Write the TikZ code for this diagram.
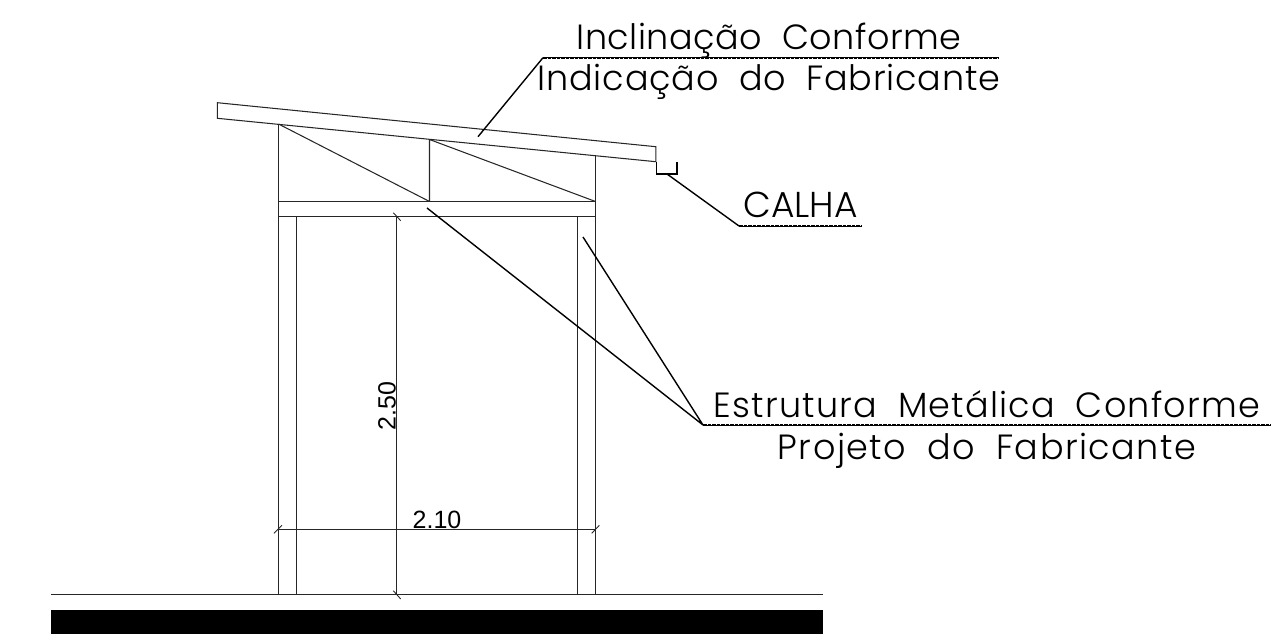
\documentclass[tikz,border=0pt]{standalone}
\usepackage{fontspec}
\setmainfont{Poppins}[UprightFont=* Light]
\newfontfamily\dimfont{Liberation Sans}
\tikzset{
  x=1pt,y=-1pt,
  struct/.style={draw=black!85,line width=1.05pt},
  leader/.style={draw=black,line width=1.4pt},
  shelf/.style={draw=black,line width=1pt,postaction={draw=black,line width=2.2pt,dash pattern=on 3.5pt off 1pt}},
  gutter/.style={draw=black,line width=1.8pt},
  tick/.style={draw=black!85,line width=.9pt},
  big/.style={anchor=base,inner sep=0pt,text=black,font=\fontsize{35}{35}\selectfont},
  dimtext/.style={anchor=base,inner sep=0pt,text=black,font=\dimfont\fontsize{25}{25}\selectfont},
}
\begin{document}
\begin{tikzpicture}
\useasboundingbox (0,0) rectangle (1284,634);
% ground
\fill[black] (51,610) rectangle (823,634);
\coordinate (gl) at (51,594.5); \coordinate (gr) at (823,594.5);
\draw[draw=black!85,line width=1.8pt] (gl) -- (gr);
% roof
\coordinate (rtl) at (217.3,102.7); \coordinate (rbl) at (217.3,118.3);
\coordinate (rtr) at (655.8,146.7); \coordinate (rbr) at (655.8,161.7);
\draw[struct] (rtl) -- (rtr) -- (rbr) -- (rbl) -- cycle;
% columns
\coordinate (lo) at (278.5,124); \coordinate (lob) at (278.5,594.5);
\coordinate (li) at (296.5,216.7); \coordinate (lib) at (296.5,594.5);
\coordinate (ro) at (595.5,156); \coordinate (rob) at (595.5,594.5);
\coordinate (ri) at (577.5,216.7); \coordinate (rib) at (577.5,594.5);
\draw[struct] (lo) -- (lob) (li) -- (lib) (ro) -- (rob) (ri) -- (rib);
% beam
\coordinate (bl1) at (278.5,201.5); \coordinate (br1) at (595.5,201.5);
\coordinate (bl2) at (278.5,216.5); \coordinate (br2) at (595.5,216.5);
\draw[struct] (bl1) -- (br1) (bl2) -- (br2);
% truss
\coordinate (wt) at (429.5,139.5); \coordinate (wb) at (429.5,201.5);
\draw[struct] (wt) -- (wb) (lo) -- (wb) (wt) -- (br1);
% gutter
\coordinate (g1) at (656.5,161.5); \coordinate (g2) at (656.5,174);
\coordinate (g3) at (677,174); \coordinate (g4) at (677,161.5);
\draw[gutter] (g1) -- (g2) -- (g3) -- (g4);
% dimensions
\coordinate (d1) at (396.5,216.5); \coordinate (d2) at (396.5,594.5);
\draw[struct] (d1) -- (d2);
\draw[tick] (393.3,212.7) -- (400.7,220.7);
\draw[tick] (393.3,590.7) -- (400.7,599);
\coordinate (h1) at (278.5,529.5); \coordinate (h2) at (595.5,529.5);
\draw[struct] (h1) -- (h2);
\draw[tick] (274,533.3) -- (282,525.3);
\draw[tick] (591.7,533.3) -- (599.3,525.3);
\node[dimtext] (dimh) at (437,528) {2.10};
\node[dimtext,rotate=90] (dimv) at (395.5,406) {2.50};
% texts
\node[big] (t1) at (769,49.5) {\addfontfeature{LetterSpace=1.4}Inclinação\hspace{10pt} Conforme};
\node[big] (t2) at (769,90) {\addfontfeature{LetterSpace=2.3}Indicação\hspace{10pt} do\hspace{10pt} Fabricante};
\node[big,font=\fontsize{36}{36}\selectfont] (t3) at (800.5,217) {CALHA};
\node[big] (t4) at (987,417) {\addfontfeature{LetterSpace=3.5}Estrutura\hspace{10pt} Metálica\hspace{10pt} Conforme};
\node[big] (t5) at (987,459) {\addfontfeature{LetterSpace=4.3}Projeto\hspace{10pt} do\hspace{10pt} Fabricante};
% leaders
\coordinate (a1) at (478,136.7); \coordinate (a2) at (543,57.7); \coordinate (a3) at (998,57.7);
\draw[leader] (a1) -- (a2);
\draw[shelf] (a2) -- (a3);
\coordinate (c1) at (667,174); \coordinate (c2) at (739,226); \coordinate (c3) at (862,226);
\draw[leader] (c1) -- (c2);
\draw[shelf] (c2) -- (c3);
\coordinate (e1) at (427,208); \coordinate (e2) at (583,237); \coordinate (e3) at (703,425); \coordinate (e4) at (1271,425);
\draw[leader] (e1) -- (e3) (e2) -- (e3);
\draw[shelf] (e3) -- (e4);
\end{tikzpicture}
\end{document}
